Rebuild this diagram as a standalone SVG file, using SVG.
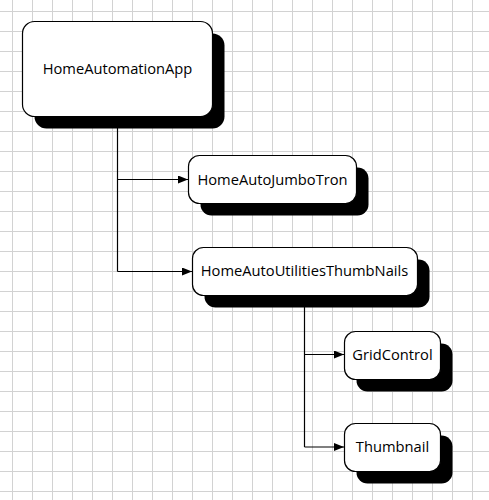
<svg xmlns="http://www.w3.org/2000/svg" width="489" height="500" viewBox="0 0 489 500">
  <style>
    .box { fill: #ffffff; stroke: #000000; stroke-width: 1.2; }
    .shadow { fill: #000000; stroke: none; }
    .label { font-family: "Open Sans", "Noto Sans", "Liberation Sans", sans-serif; font-size: 14.7px; fill: #000000; text-anchor: middle; }
    .conn { fill: none; stroke: #000000; stroke-width: 1.2; }
  </style>
  <defs>
    <pattern id="grid" x="12" y="11" width="20" height="20" patternUnits="userSpaceOnUse">
      <path d="M0.5 0 V20 M0 0.5 H20" fill="none" stroke="#d2d2d2" stroke-width="1"/>
    </pattern>
    <marker id="arrow" markerWidth="10" markerHeight="8" refX="10" refY="4" orient="auto" markerUnits="userSpaceOnUse">
      <path d="M0 0 L10 4 L0 8 Z" fill="#000000"/>
    </marker>
  </defs>
  <rect x="0" y="0" width="489" height="500" fill="#ffffff"/>
  <rect x="0" y="0" width="489" height="500" fill="url(#grid)"/>

  <g id="connectors">
    <path class="conn" d="M117.5 116 V271.5"/>
    <path class="conn" d="M117.5 179.5 H188" marker-end="url(#arrow)"/>
    <path class="conn" d="M117.5 271.5 H192" marker-end="url(#arrow)"/>
    <path class="conn" d="M304.5 307 V447"/>
    <path class="conn" d="M304.5 354.5 H344" marker-end="url(#arrow)"/>
    <path class="conn" d="M304.5 447 H344" marker-end="url(#arrow)"/>
  </g>

  <g id="HomeAutomationApp">
    <rect class="shadow" x="34.5" y="33.5" width="190" height="95" rx="12"/>
    <rect class="box" x="22.5" y="21.5" width="190" height="95" rx="12"/>
    <text class="label" x="117.5" y="74">HomeAutomationApp</text>
  </g>

  <g id="HomeAutoJumboTron">
    <rect class="shadow" x="200.5" y="167.5" width="168" height="48" rx="11"/>
    <rect class="box" x="188.5" y="155.5" width="168" height="48" rx="11"/>
    <text class="label" x="272.5" y="184.5">HomeAutoJumboTron</text>
  </g>

  <g id="HomeAutoUtilitiesThumbNails">
    <rect class="shadow" x="204.5" y="259.5" width="225" height="48" rx="11"/>
    <rect class="box" x="192.5" y="247.5" width="225" height="48" rx="11"/>
    <text class="label" x="304.5" y="276">HomeAutoUtilitiesThumbNails</text>
  </g>

  <g id="GridControl">
    <rect class="shadow" x="356.5" y="343.5" width="96" height="48" rx="11"/>
    <rect class="box" x="344.5" y="331.5" width="96" height="48" rx="11"/>
    <text class="label" x="392.5" y="359.5">GridControl</text>
  </g>

  <g id="Thumbnail">
    <rect class="shadow" x="356.5" y="435.5" width="96" height="48" rx="11"/>
    <rect class="box" x="344.5" y="423.5" width="96" height="48" rx="11"/>
    <text class="label" x="392.5" y="452">Thumbnail</text>
  </g>
</svg>
